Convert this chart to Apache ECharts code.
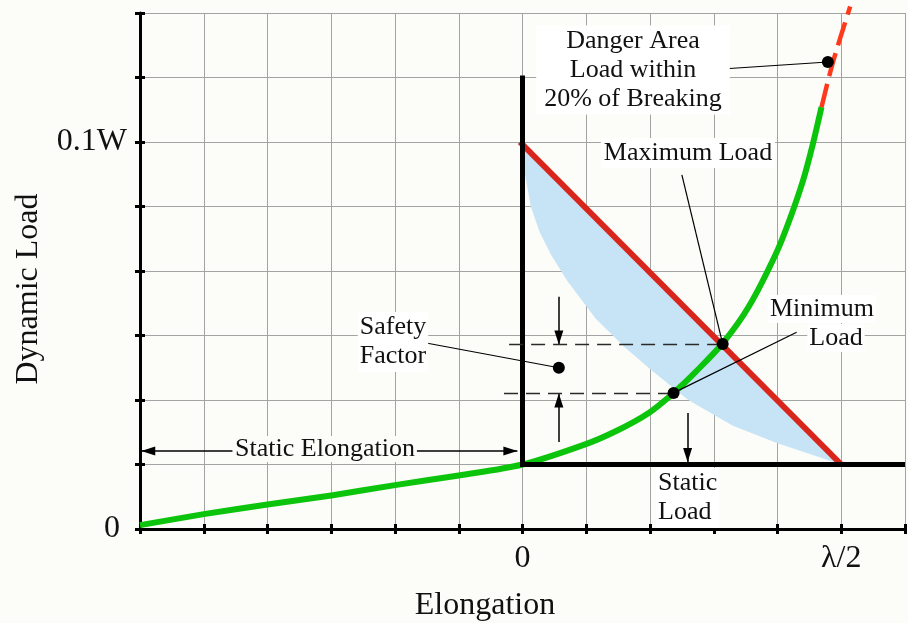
<!DOCTYPE html>
<html>
<head>
<meta charset="utf-8">
<title>Dynamic Load vs Elongation</title>
<script src="https://cdn.jsdelivr.net/npm/echarts@6/dist/echarts.min.js"></script>
<style>
  html, body { margin: 0; padding: 0; background: #fcfcf9; }
  #main { width: 908px; height: 623px; }
</style>
</head>
<body>
<div id="main"></div>
<script>
// ---- data (x in grid units, y in grid units; 6 on y = 0.1W) ----
var xLabelAt = [6, 11];
var xLabelText = ['0', 'λ/2'];
var yLabelAt = [0, 6];
var yLabelText = ['0', '0.1W'];

// rope load / elongation curve (green)
var ropeCurve = [
    [0, 0.06], [1, 0.23], [2, 0.38], [3, 0.52], [4, 0.68], [5, 0.83], [6, 1.0],
    [6.95, 1.30], [7.47, 1.52], [7.98, 1.80], [8.37, 2.11], [8.72, 2.44], [9.14, 2.88],
    [9.55, 3.45], [9.99, 4.30], [10.21, 4.85], [10.40, 5.40], [10.55, 5.95], [10.69, 6.54]
];
// danger area (red dashed)
var dangerCurve = [[10.69, 6.54], [10.87, 7.24], [11.14, 8.1]];
// maximum load line (red)
var maxLoadLine = [[5.96, 6], [11, 1]];
// minimum load edge of the blue band
var minLoadEdge = [
    [6, 6], [6.04, 5.5], [6.13, 5.0], [6.27, 4.6], [6.45, 4.25], [6.7, 3.85], [7.15, 3.26],
    [7.6, 2.82], [8.0, 2.48], [8.6, 2.0], [9.3, 1.6], [10.0, 1.33], [10.6, 1.13], [11, 1]
];
// static load frame (black)
var staticFrame = [[6, 7.03], [6, 1], [12, 1]];
// dashed levels
var maxLevel = [[5.79, 2.86], [9.14, 2.86]];
var minLevel = [[5.71, 2.10], [8.37, 2.10]];
// dots
var dots = [[9.14, 2.87], [8.37, 2.11], [6.57, 2.50], [10.79, 7.24]];
// leader lines [from, to]
var leaders = [
    [[4.51, 2.88], [6.57, 2.50]],
    [[8.50, 5.49], [9.14, 2.87]],
    [[10.30, 3.05], [8.37, 2.11]],
    [[8.95, 7.12], [10.79, 7.24]]
];
// arrows [tail, tip]
var arrows = [
    [[1.45, 1.21], [0.02, 1.21]],
    [[4.33, 1.21], [5.92, 1.21]],
    [[6.57, 3.60], [6.57, 2.86]],
    [[6.57, 1.35], [6.57, 2.10]],
    [[8.59, 1.80], [8.59, 1.04]],
    [[8.59, -0.75], [8.59, -0.03]]
];

var serif = '"Liberation Serif", "DejaVu Serif", serif';

var chart = echarts.init(document.getElementById('main'));

function lineSeries(data, color, width, type, z) {
    return {
        type: 'line',
        data: data,
        showSymbol: false,
        symbol: 'none',
        silent: true,
        clip: false,
        z: z,
        lineStyle: { color: color, width: width, type: type || 'solid', join: 'miter' }
    };
}

var series = [];

// blue band between max load line and min load edge
series.push({
    type: 'custom',
    silent: true,
    z: 1,
    data: [[0, 0]],
    renderItem: function (params, api) {
        var pts = [];
        maxLoadLine.forEach(function (p) { pts.push(api.coord(p)); });
        minLoadEdge.slice().reverse().forEach(function (p) { pts.push(api.coord(p)); });
        return { type: 'polygon', shape: { points: pts }, style: { fill: '#c7e4f6' } };
    }
});

var green = lineSeries(ropeCurve, '#0bc40b', 6, 'solid', 3);
green.smooth = 0.3;
series.push(green);
var danger = lineSeries(dangerCurve, '#ff3a1c', 4.5, [24, 8], 3);
danger.smooth = 0.3;
series.push(danger);
series.push(lineSeries(maxLoadLine, '#d9261c', 6, 'solid', 4));
series.push(lineSeries(staticFrame, '#000', 5, 'solid', 5));
series.push(lineSeries(maxLevel, '#2a2a2a', 1.6, [14, 8], 6));
series.push(lineSeries(minLevel, '#2a2a2a', 1.6, [14, 8], 6));
leaders.forEach(function (l) {
    series.push(lineSeries(l, '#000', 1.2, 'solid', 6));
});

// arrows
series.push({
    type: 'line',
    data: [],
    silent: true,
    clip: false,
    z: 7,
    markLine: {
        silent: true,
        animation: false,
        symbol: ['none', 'triangle'],
        label: { show: false },
        emphasis: { disabled: true },
        lineStyle: { color: '#000', width: 1.5, type: 'solid' },
        data: arrows.map(function (a) {
            return [
                { coord: a[0] },
                { coord: a[1], symbolSize: [9, 14], symbolOffset: [0, '50%'] }
            ];
        })
    }
});

series.push({
    type: 'scatter',
    data: dots,
    symbolSize: 12,
    silent: true,
    z: 8,
    itemStyle: { color: '#000', opacity: 1 }
});

function textEl(text, x, y, size, opts) {
    opts = opts || {};
    return {
        type: 'text',
        x: x,
        y: y,
        rotation: opts.rotation || 0,
        z: 100,
        style: {
            text: text,
            fontFamily: serif,
            fontSize: size,
            fill: '#111',
            align: opts.align || 'center',
            textAlign: opts.align || 'center',
            verticalAlign: 'middle',
            textVerticalAlign: 'middle',
            lineHeight: opts.lineHeight || size,
            backgroundColor: opts.bg || null,
            padding: opts.padding || 0
        }
    };
}

var option = {
    backgroundColor: '#fcfcf9',
    animation: false,
    grid: { left: 140, top: 13, width: 771, height: 516 },
    xAxis: [{
        type: 'value', min: 0, max: 12, interval: 1,
        axisLine: { lineStyle: { color: '#000', width: 3 } },
        axisTick: { length: 5, lineStyle: { color: '#000', width: 3 } },
        axisLabel: {
            margin: 14, color: '#111', fontFamily: serif, fontSize: 32,
            formatter: function (v) {
                var i = xLabelAt.indexOf(v);
                return i >= 0 ? xLabelText[i] : '';
            }
        },
        splitLine: { show: true, lineStyle: { color: '#a3a3a3', width: 1 } }
    }, {
        type: 'value', min: 0, max: 12, interval: 1, position: 'bottom',
        axisLine: { show: false },
        axisTick: { inside: true, length: 5, lineStyle: { color: '#000', width: 3 } },
        axisLabel: { show: false },
        splitLine: { show: false }
    }],
    yAxis: [{
        type: 'value', min: 0, max: 8, interval: 1,
        axisLine: { lineStyle: { color: '#000', width: 3 } },
        axisTick: { length: 5, lineStyle: { color: '#000', width: 3 } },
        axisLabel: {
            margin: 13, color: '#111', fontFamily: serif, fontSize: 32,
            formatter: function (v) {
                var i = yLabelAt.indexOf(v);
                if (i < 0) return '';
                return v === 0 ? '{z|' + yLabelText[i] + '}' : yLabelText[i];
            },
            rich: { z: { fontFamily: serif, fontSize: 32, color: '#111', padding: [0, 7, 0, 0] } }
        },
        splitLine: { show: true, lineStyle: { color: '#a3a3a3', width: 1 } }
    }, {
        type: 'value', min: 0, max: 8, interval: 1, position: 'left',
        axisLine: { show: false },
        axisTick: { inside: true, length: 5, lineStyle: { color: '#000', width: 3 } },
        axisLabel: { show: false },
        splitLine: { show: false }
    }],
    series: series,
    graphic: [
        textEl('Elongation', 485, 606, 32),
        textEl('Dynamic Load', 29, 289, 32, { rotation: Math.PI / 2 }),
        textEl('Danger Area\nLoad within\n20% of Breaking', 633, 70, 26,
            { lineHeight: 29, bg: '#ffffff', padding: [1, 8, 1, 8] }),
        textEl('Maximum Load', 688, 153, 26, { bg: '#ffffff', padding: [2, 3, 2, 3] }),
        textEl('Minimum', 822, 309, 26, { bg: '#ffffff', padding: [1, 2, 1, 2] }),
        textEl('Load', 836, 338, 26, { bg: '#ffffff', padding: [1, 2, 1, 2] }),
        textEl('Safety\nFactor', 393, 342, 26, { lineHeight: 29, bg: '#ffffff', padding: [1, 2, 1, 2] }),
        textEl('Static Elongation', 325, 449, 26, { bg: '#fcfcf9', padding: [0, 2, 0, 2] }),
        textEl('Static\nLoad', 656, 498, 26, { align: 'left', lineHeight: 29, bg: '#ffffff', padding: [1, 2, 1, 2] })
    ]
};

chart.setOption(option);
</script>
</body>
</html>
